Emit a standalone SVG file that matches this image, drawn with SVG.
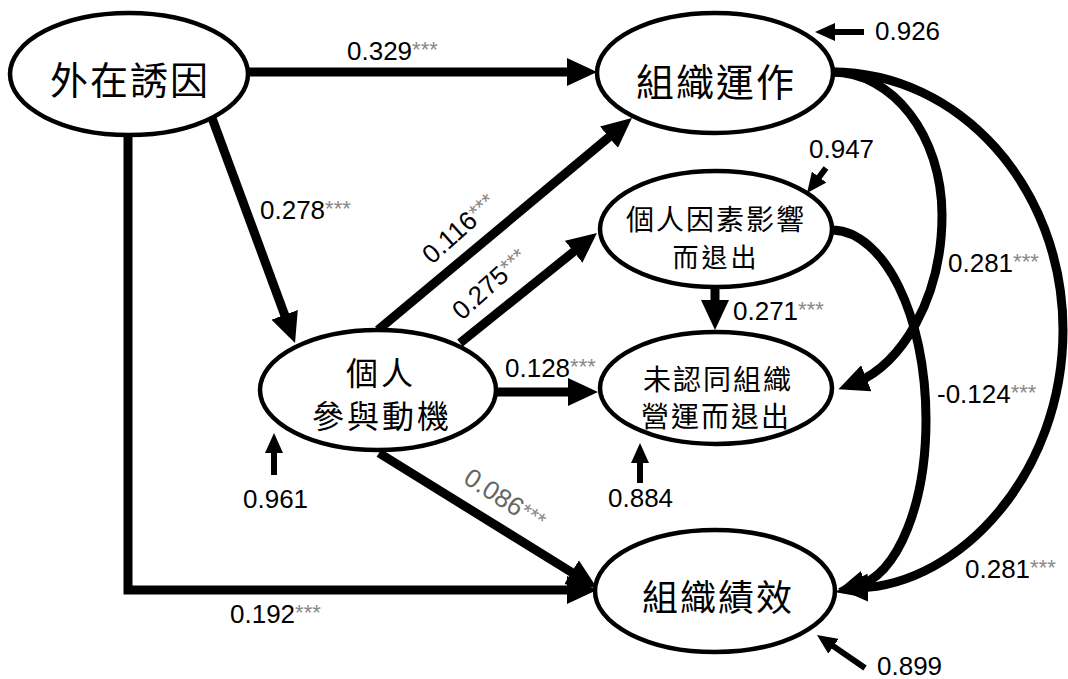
<svg xmlns="http://www.w3.org/2000/svg" width="1068" height="679" viewBox="0 0 1068 679">
<defs>
<style>
.node ellipse{fill:#fff;stroke:#000;stroke-width:4.5}
.cjk{font-family:"Noto Sans CJK TC","Noto Sans CJK SC",sans-serif;fill:#000;text-anchor:middle;dominant-baseline:central}
.num{font-family:"Liberation Sans",Arial,sans-serif;font-size:26px;fill:#000}
.st{font-size:22px;fill:#888}
.main{fill:none;stroke:#000;stroke-width:9;stroke-linejoin:miter}
.err{fill:none;stroke:#000;stroke-width:6}
</style>
<marker id="ah" markerUnits="userSpaceOnUse" viewBox="0 0 30 28" markerWidth="30" markerHeight="28" refX="10" refY="14" orient="auto"><path d="M0,0 L30,14 L0,28 z" fill="#000"/></marker>
<marker id="ahs" markerUnits="userSpaceOnUse" viewBox="0 0 20 18" markerWidth="20" markerHeight="18" refX="6" refY="9" orient="auto"><path d="M0,0 L20,9 L0,18 z" fill="#000"/></marker>
</defs>
<rect width="1068" height="679" fill="#fff"/>
<g id="connectors">
<path class="main" d="M248,72 L577,72" marker-end="url(#ah)"/>
<path class="main" d="M212,118 L288.1,324.2" marker-end="url(#ah)"/>
<path class="main" d="M128,135 L128,590 L577,590" marker-end="url(#ah)"/>
<path class="main" d="M378,330 L616.6,130.8" marker-end="url(#ah)"/>
<path class="main" d="M460,343 L581.4,245.5" marker-end="url(#ah)"/>
<path class="main" d="M497,392 L578,392" marker-end="url(#ah)"/>
<path class="main" d="M379,453 L580,577.5" marker-end="url(#ah)"/>
<path class="main" d="M715,287 L715,310" marker-end="url(#ah)"/>
<path class="main" d="M832,72 C893,72 942,136 942,215 C942,300 900,365 857,382" marker-end="url(#ah)"/>
<path class="main" d="M832,72 C959.5,72 1063,187.6 1063,330 C1063,473.5 960,585 858,588" marker-end="url(#ah)"/>
<path class="main" d="M833,230 C884,232 926,315 926,420 C926,500 900,575 855,587" marker-end="url(#ah)"/>
<path class="err" d="M864,32 L829,32" marker-end="url(#ahs)"/>
<path class="err" d="M826,168 L815.5,181.9" marker-end="url(#ahs)"/>
<path class="err" d="M274,475 L274,447" marker-end="url(#ahs)"/>
<path class="err" d="M640,483 L640,457" marker-end="url(#ahs)"/>
<path class="err" d="M865,668 L828.5,642.9" marker-end="url(#ahs)"/>
</g>
<g id="n_waizai" class="node"><ellipse cx="129" cy="74" rx="119" ry="61"/><text class="cjk" x="130" y="77" font-size="38" letter-spacing="2">外在誘因</text></g>
<g id="n_yunzuo" class="node"><ellipse cx="715" cy="73" rx="118" ry="60"/><text class="cjk" x="716" y="79" font-size="38" letter-spacing="2">組織運作</text></g>
<g id="n_geren_yinsu" class="node"><ellipse cx="716" cy="229" rx="116" ry="58"/><text class="cjk" x="716" y="218" font-size="28" letter-spacing="2">個人因素影響</text><text class="cjk" x="716" y="255" font-size="26" letter-spacing="3">而退出</text></g>
<g id="n_weirentong" class="node"><ellipse cx="716" cy="388" rx="116" ry="56"/><text class="cjk" x="718" y="378" font-size="28" letter-spacing="2">未認同組織</text><text class="cjk" x="716" y="415" font-size="28" letter-spacing="2">營運而退出</text></g>
<g id="n_dongji" class="node"><ellipse cx="378" cy="390" rx="118" ry="60"/><text class="cjk" x="381" y="371" font-size="32" letter-spacing="3">個人</text><text class="cjk" x="382" y="414" font-size="32" letter-spacing="3">參與動機</text></g>
<g id="n_jixiao" class="node"><ellipse cx="715" cy="591" rx="120" ry="61"/><text class="cjk" x="718" y="595" font-size="36" letter-spacing="2">組織績效</text></g>
<g id="labels">
<text class="num" x="347" y="60">0.329<tspan class="st" dy="-3">***</tspan></text>
<text class="num" x="260" y="219">0.278<tspan class="st" dy="-3">***</tspan></text>
<text class="num" transform="translate(432,265) rotate(-42)">0.116<tspan class="st" dy="-3">***</tspan></text>
<text class="num" transform="translate(462,321) rotate(-42)">0.275<tspan class="st" dy="-3">***</tspan></text>
<text class="num" x="505" y="377">0.128<tspan class="st" dy="-3">***</tspan></text>
<text class="num" x="733" y="320">0.271<tspan class="st" dy="-3">***</tspan></text>
<text class="num" x="948" y="272">0.281<tspan class="st" dy="-3">***</tspan></text>
<text class="num" x="937" y="403">-0.124<tspan class="st" dy="-3">***</tspan></text>
<text class="num" x="965" y="578">0.281<tspan class="st" dy="-3">***</tspan></text>
<text class="num" style="fill:#666" transform="translate(462,482) rotate(33)">0.086<tspan class="st" dy="-3">***</tspan></text>
<text class="num" x="230" y="623">0.192<tspan class="st" dy="-3">***</tspan></text>
<text class="num" x="243" y="508">0.961</text>
<text class="num" x="608" y="507">0.884</text>
<text class="num" x="875" y="40">0.926</text>
<text class="num" x="809" y="158">0.947</text>
<text class="num" x="877" y="675">0.899</text>
</g>
</svg>
